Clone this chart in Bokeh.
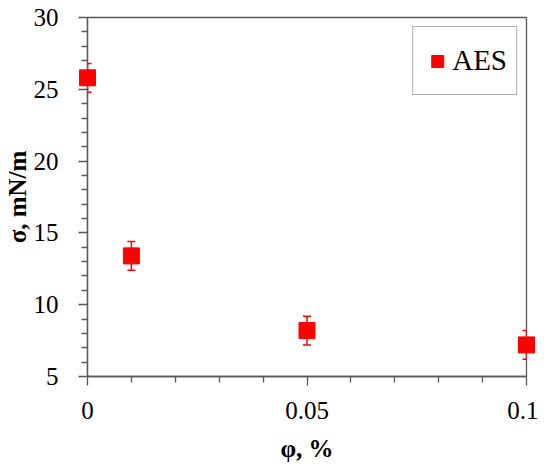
from bokeh.plotting import figure
from bokeh.models import (ColumnDataSource, Whisker, TeeHead, FixedTicker,
                          CustomJSTickFormatter, Range1d, Legend, LegendItem)
from bokeh.embed import file_html
from bokeh.resources import INLINE

# data
phi = [0.0, 0.01, 0.05, 0.1]
sigma = [25.8, 13.4, 8.2, 7.2]
err = [1.0, 1.0, 1.0, 1.0]
series_name = "AES"
x_major = [0.0, 0.05, 0.1]
x_minor = [0.01, 0.02, 0.03, 0.04, 0.06, 0.07, 0.08, 0.09]
y_major = [5, 10, 15, 20, 25, 30]
y_minor = [6, 7, 8, 9, 11, 12, 13, 14, 16, 17, 18, 19, 21, 22, 23, 24, 26, 27, 28, 29]

FONT = "Liberation Serif"
AX = "#595959"
RED = "#FF0000"

src = ColumnDataSource(dict(
    x=phi, y=sigma,
    lo=[s - e for s, e in zip(sigma, err)],
    hi=[s + e for s, e in zip(sigma, err)],
))

p = figure(frame_width=439, frame_height=359, output_backend="svg", toolbar_location=None,
           x_range=Range1d(0, 0.1), y_range=Range1d(5, 30),
           min_border_left=86, min_border_right=12, min_border_top=17, min_border_bottom=80)
p.background_fill_color = "white"
p.border_fill_color = "white"
p.outline_line_color = AX
p.outline_line_width = 1.3
p.grid.visible = False

wh = Whisker(source=src, base="x", lower="lo", upper="hi", dimension="height",
             line_color=RED, line_width=1.5,
             upper_head=TeeHead(size=8, line_color=RED, line_width=1.5),
             lower_head=TeeHead(size=8, line_color=RED, line_width=1.5))
p.add_layout(wh)

r = p.scatter("x", "y", source=src, marker="square", size=16,
              fill_color=RED, line_color=RED, level="overlay")

# axes
for ax in (p.xaxis[0], p.yaxis[0]):
    ax.axis_line_color = AX
    ax.axis_line_width = 1.3
    ax.major_tick_line_color = AX
    ax.minor_tick_line_color = AX
    ax.major_tick_line_width = 1.3
    ax.minor_tick_line_width = 1.3
    ax.major_tick_in = 0
    ax.major_tick_out = 9
    ax.minor_tick_in = 0
    ax.minor_tick_out = 6
    ax.major_label_text_font = FONT
    ax.major_label_text_font_size = "25px"
    ax.major_label_text_color = "black"
    ax.axis_label_text_font = FONT
    ax.axis_label_text_font_size = "25px"
    ax.axis_label_text_font_style = "bold"
    ax.axis_label_text_color = "black"

p.xaxis.ticker = FixedTicker(ticks=x_major, minor_ticks=x_minor)
p.yaxis.ticker = FixedTicker(ticks=y_major, minor_ticks=y_minor)
p.xaxis.formatter = CustomJSTickFormatter(code="return String(Math.round(tick*100)/100)")
p.xaxis.axis_label = "φ, %"
p.yaxis.axis_label = "σ, mN/m"
p.xaxis.major_label_standoff = 16
p.yaxis.major_label_standoff = 20
p.xaxis.axis_label_standoff = 13
p.yaxis.axis_label_standoff = 0

legend = Legend(items=[LegendItem(label=series_name, renderers=[r])],
                location="top_right")
legend.margin = 9
legend.padding = 9
legend.glyph_width = 30
legend.glyph_height = 30
legend.label_standoff = -5
legend.label_height = 49
legend.label_text_font = FONT
legend.label_text_font_size = "29px"
legend.label_text_color = "black"
legend.border_line_color = AX
legend.border_line_width = 1.3
legend.background_fill_alpha = 1.0
p.add_layout(legend)

open("out.html", "w").write(file_html(p, INLINE))
